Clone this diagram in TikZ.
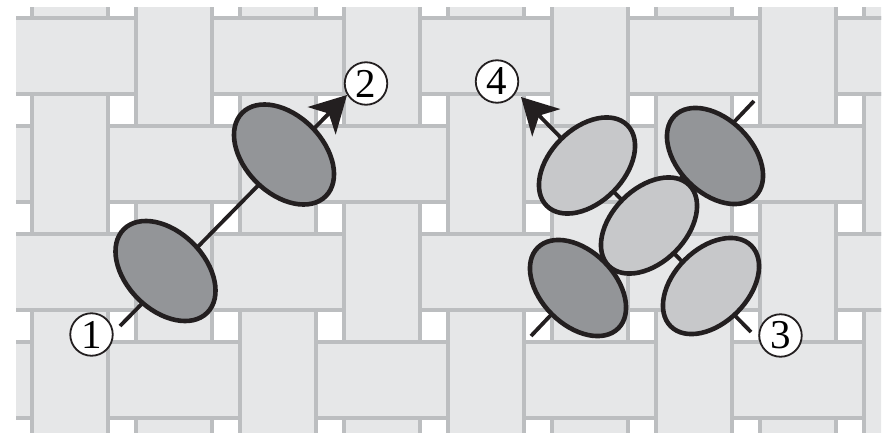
\documentclass[tikz,border=0pt]{standalone}
\usepackage{fontspec}
\setmainfont{Liberation Serif}
\usepackage{xcolor}
\usepackage{tikz}
\usetikzlibrary{shapes.geometric}
\usetikzlibrary{arrows.meta}

\definecolor{tilefill}{HTML}{E6E7E8}
\definecolor{grout}{HTML}{BCBEC0}
\definecolor{darkegg}{HTML}{939598}
\definecolor{lightegg}{HTML}{C7C8CA}
\definecolor{ink}{HTML}{231F20}

\begin{document}
\begin{tikzpicture}[x=1pt, y=-1pt,
    tile/.style = {fill=tilefill, draw=grout, line width=4.4pt},
    bond/.style = {draw=ink, line width=3.8pt},
    egg/.style = {ellipse, draw=ink, line width=4.6pt, inner sep=0pt, minimum width=114pt, minimum height=74pt},
    darkone/.style = {egg, fill=darkegg, rotate=-45},
    lightone/.style = {egg, fill=lightegg, rotate=45},
    num/.style = {circle, draw=ink, fill=white, line width=1.8pt, minimum size=42.5pt, inner sep=0pt, font=\fontsize{41}{41}\selectfont},
    >={Stealth[length=36pt, width=39pt, inset=10pt]}
  ]
  \useasboundingbox (0,0) rectangle (888,433);

  % floor
  \begin{scope}
    \clip (16,8) rectangle (881,433);
    \foreach \j in {0,...,5}{
      \foreach \k in {-1,...,8}{
        \pgfmathsetmacro{\xk}{34+104*\k}
        \pgfmathsetmacro{\yj}{20+108*(\j-1)}
        \pgfmathtruncatemacro{\odd}{mod(\j+\k+10,2)}
        \ifnum\odd=0
          \draw[tile] ({\xk-2},{\yj-34}) rectangle ({\xk+74},{\yj+106});
        \else
          \draw[tile] ({\xk-30},{\yj-2}) rectangle ({\xk+102},{\yj+74});
        \fi
      }
    }
  \end{scope}

  % left rod
  \coordinate (s1) at (120,326);
  \coordinate (t2) at (347,95);
  \draw[bond, ->] (s1) -- (t2);
  \node[darkone, minimum width=118pt, minimum height=78pt] (e1) at (165.5,271) {};
  \node[darkone, minimum width=118pt, minimum height=78pt] (e2) at (284,154.5) {};

  % right cluster
  \coordinate (s3) at (751,332);
  \coordinate (t4) at (521,97);
  \coordinate (d1) at (531,336);
  \coordinate (d2) at (754,101);
  \draw[bond] (d1) -- (d2);
  \draw[bond, ->] (s3) -- (t4);
  \node[darkone] (c3) at (715,156) {};
  \node[darkone] (c4) at (578,288) {};
  \node[lightone] (c0) at (649,225.5) {};
  \node[lightone] (c1) at (587,165.5) {};
  \node[lightone] (c2) at (711,286) {};

  \node[num] (n1) at (91.5,334.5) {1};
  \node[num] (n2) at (366,83.5) {2};
  \node[num] (n3) at (780.5,335.5) {3};
  \node[num] (n4) at (497,81.5) {4};
\end{tikzpicture}
\end{document}
